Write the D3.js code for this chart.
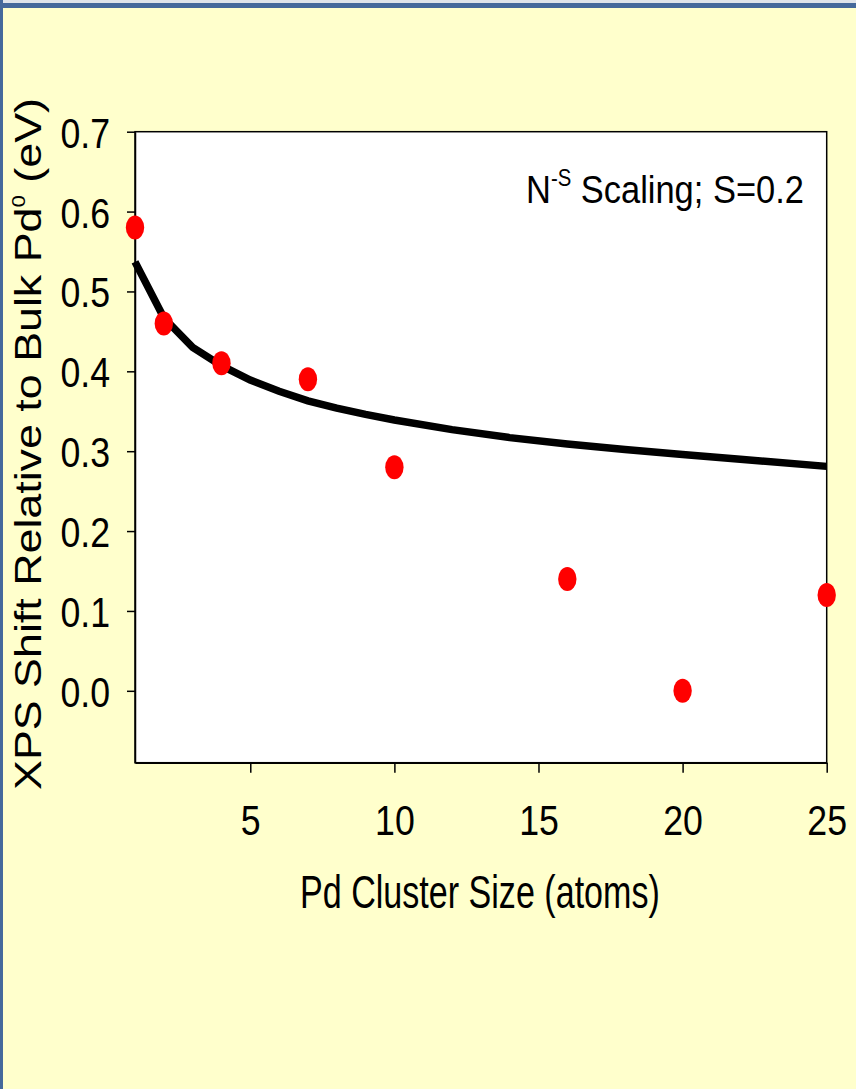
<!DOCTYPE html>
<html><head><meta charset="utf-8">
<script src="https://cdn.jsdelivr.net/npm/d3@7"></script>
<style>html,body{margin:0;padding:0;background:#FFFFCC;}svg{display:block;}</style>
</head><body>
<script>
// Data
const clusterSize = [1, 2, 4, 7, 10, 16, 20, 25];
const xpsShift    = [0.58, 0.46, 0.41, 0.39, 0.28, 0.14, 0.00, 0.12];
const fitSize  = [1, 2, 3, 4, 5, 6, 7, 8, 9, 10, 12, 14, 16, 18, 20, 22, 25];
const fitShift = [0.537, 0.467, 0.430, 0.407, 0.389, 0.375, 0.363, 0.354, 0.346, 0.339, 0.327, 0.317, 0.309, 0.302, 0.296, 0.290, 0.281];
const xTicks = [5, 10, 15, 20, 25];
const yTicks = [0.0, 0.1, 0.2, 0.3, 0.4, 0.5, 0.6, 0.7];

const W = 856, H = 1089;
const FONT = "'Liberation Sans', Arial, sans-serif";
const svg = d3.select("body").append("svg").attr("width", W).attr("height", H);

svg.append("rect").attr("width", W).attr("height", H).attr("fill", "#FFFFCC");
svg.append("rect").attr("x", 0).attr("y", 0).attr("width", W).attr("height", 3).attr("fill", "#dfe4ea");
svg.append("rect").attr("x", 0).attr("y", 3).attr("width", W).attr("height", 5).attr("fill", "#45699b");
svg.append("rect").attr("x", 0).attr("y", 0).attr("width", 3).attr("height", H).attr("fill", "#45699b");

const x = d3.scaleLinear().domain([1, 25]).range([135, 826.7]);
const y = d3.scaleLinear().domain([-0.09, 0.7]).range([762.7, 131.7]);

// plot area
svg.append("rect").attr("x", x(1)).attr("y", y(0.7))
  .attr("width", x(25) - x(1)).attr("height", y(-0.09) - y(0.7))
  .attr("fill", "#fff").attr("stroke", "#000").attr("stroke-width", 1.5);

function fitWidth(sel, target) {
  sel.each(function () {
    const t = d3.select(this);
    const w = this.getBBox().width;
    const ax = +t.attr("x"), ay = +t.attr("y");
    t.attr("transform", `translate(${ax},${ay}) scale(${target / w},1) translate(${-ax},${-ay})`);
  });
}

// axes
const xAxis = svg.append("g").attr("transform", `translate(0,${y(-0.09)})`)
  .call(d3.axisBottom(x).tickValues(xTicks).tickSize(10).tickSizeOuter(0).tickFormat(d3.format("d")));
const yAxis = svg.append("g").attr("transform", `translate(${x(1)},0)`)
  .call(d3.axisLeft(y).tickValues(yTicks).tickSize(8).tickSizeOuter(0).tickFormat(d3.format(".1f")));
[xAxis, yAxis].forEach(g => {
  g.select(".domain").attr("stroke", "#000").attr("stroke-width", 1.5);
  g.selectAll(".tick line").attr("stroke", "#000").attr("stroke-width", 1.5);
  g.selectAll("text").attr("font-family", FONT).attr("font-size", 43).attr("fill", "#000");
});
xAxis.selectAll(".tick text").attr("x", 0).attr("y", 72).attr("dy", null)
  .attr("transform", "translate(0,72) scale(0.83,1) translate(0,-72)");
yAxis.selectAll(".tick text").attr("x", -25).attr("dy", "0.36em")
  .attr("transform", "translate(-25,0) scale(0.83,1) translate(25,0)");

// fitted curve
const line = d3.line().x((d, i) => x(fitSize[i])).y(d => y(d));
svg.append("path").datum(fitShift).attr("d", line)
  .attr("fill", "none").attr("stroke", "#000").attr("stroke-width", 7.5);

// data points
svg.append("g").selectAll("ellipse").data(clusterSize).join("ellipse")
  .attr("cx", d => x(d)).attr("cy", (d, i) => y(xpsShift[i]))
  .attr("rx", 9.2).attr("ry", 12).attr("fill", "#ff0000");

// annotation
const ann = svg.append("text").attr("x", 526).attr("y", 203)
  .attr("font-family", FONT).attr("font-size", 39).attr("fill", "#000");
ann.append("tspan").text("N");
ann.append("tspan").attr("font-size", 23).attr("dy", -17).text("-S");
ann.append("tspan").attr("dy", 17).text(" Scaling; S=0.2");
fitWidth(ann, 278);

// x axis title
const xt = svg.append("text").attr("x", 300).attr("y", 908)
  .attr("font-family", FONT).attr("font-size", 46).attr("fill", "#000")
  .text("Pd Cluster Size (atoms)");
fitWidth(xt, 360);

// y axis title (rotated)
const yt = svg.append("text").attr("x", 0).attr("y", 0)
  .attr("text-anchor", "middle")
  .attr("font-family", FONT).attr("font-size", 44).attr("fill", "#000");
yt.append("tspan").text("XPS Shift Relative to Bulk Pd");
yt.append("tspan").attr("font-size", 22).attr("dy", -19).text("0");
yt.append("tspan").attr("dy", 19).text(" (eV)");
const ylen = yt.node().getBBox().width;
yt.attr("transform", `translate(41,444) rotate(-90) scale(${692 / ylen},0.85)`);
</script>
</body></html>
